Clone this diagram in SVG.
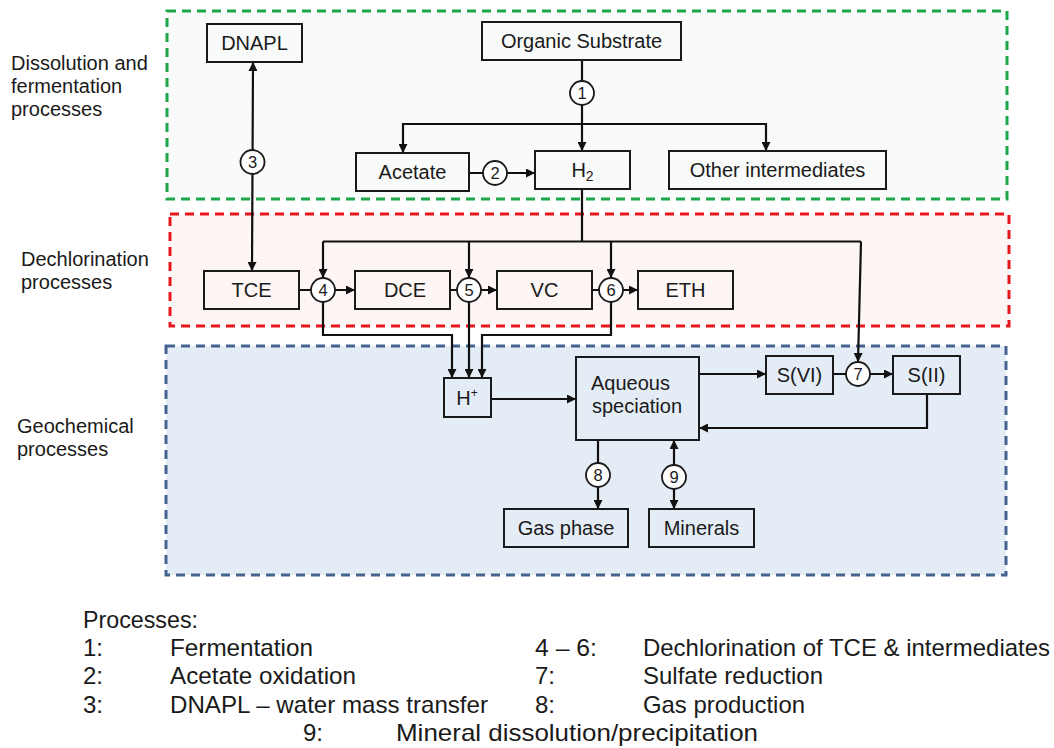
<svg xmlns="http://www.w3.org/2000/svg" width="1054" height="748" viewBox="0 0 1054 748">
<style>
text{font-family:"Liberation Sans",Arial,sans-serif;fill:#1a1a1a}
.lbl{font-size:20px}
.nt{font-size:20px;text-anchor:middle}
.num{font-size:16.5px;text-anchor:middle}
.leg{font-size:24px}
.box{fill:none;stroke:#1a1a1a;stroke-width:2}
.cir{fill:#fff;stroke:#1a1a1a;stroke-width:1.8}
.con{fill:none;stroke:#111;stroke-width:2.2}
.region{stroke-width:3;stroke-dasharray:9 6}
</style>
<defs>
<marker id="ah" viewBox="0 0 10 10" refX="10" refY="5" markerWidth="10" markerHeight="9" markerUnits="userSpaceOnUse" orient="auto-start-reverse">
<path d="M0,0 L10,5 L0,10 z" fill="#111"/>
</marker>
</defs>
<rect width="1054" height="748" fill="#fff"/>

<g id="regions">
<rect class="region" x="167" y="11" width="840" height="188" fill="#f8fbf9" stroke="#1fa64b"/>
<rect class="region" x="170" y="214" width="839" height="112" fill="#fdf6f4" stroke="#e8161c"/>
<rect class="region" x="166" y="346" width="840" height="229" fill="#e4ecf6" stroke="#44648f"/>
</g>

<g id="region-labels">
<text class="lbl" x="11" y="70">Dissolution and</text>
<text class="lbl" x="11" y="93">fermentation</text>
<text class="lbl" x="11" y="116">processes</text>
<text class="lbl" x="21" y="266">Dechlorination</text>
<text class="lbl" x="21" y="289">processes</text>
<text class="lbl" x="17" y="433">Geochemical</text>
<text class="lbl" x="17" y="456">processes</text>
</g>

<g id="connectors">
<path class="con" d="M582 60 V151" marker-end="url(#ah)"/>
<path class="con" d="M582 124 H403 V153" marker-end="url(#ah)"/>
<path class="con" d="M582 124 H766 V151" marker-end="url(#ah)"/>
<path class="con" d="M469 173 H535" marker-end="url(#ah)"/>
<path class="con" d="M253 62 L252 271" marker-start="url(#ah)" marker-end="url(#ah)"/>
<path class="con" d="M582 189 V241.5"/>
<path class="con" d="M323 241.5 H861"/>
<path class="con" d="M323 241.5 V278" marker-end="url(#ah)"/>
<path class="con" d="M469 241.5 V278" marker-end="url(#ah)"/>
<path class="con" d="M611 241.5 V278" marker-end="url(#ah)"/>
<path class="con" d="M861 241.5 L858 362" marker-end="url(#ah)"/>
<path class="con" d="M299 290 H355" marker-end="url(#ah)"/>
<path class="con" d="M450 290 H497" marker-end="url(#ah)"/>
<path class="con" d="M592 290 H638" marker-end="url(#ah)"/>
<path class="con" d="M323 302 V335 H452 V378" marker-end="url(#ah)"/>
<path class="con" d="M469 302 V378" marker-end="url(#ah)"/>
<path class="con" d="M611 302 V335 H482 V378" marker-end="url(#ah)"/>
<path class="con" d="M491 399 H576" marker-end="url(#ah)"/>
<path class="con" d="M699 374 H766" marker-end="url(#ah)"/>
<path class="con" d="M833 374 H893" marker-end="url(#ah)"/>
<path class="con" d="M927 394 V428 H699" marker-end="url(#ah)"/>
<path class="con" d="M598 440 V509" marker-end="url(#ah)"/>
<path class="con" d="M674 509 V440" marker-start="url(#ah)" marker-end="url(#ah)"/>
</g>

<g id="process-markers">
<circle class="cir" cx="582" cy="93" r="12"/><text class="num" x="582" y="99">1</text>
<circle class="cir" cx="495" cy="173" r="12"/><text class="num" x="495" y="179">2</text>
<circle class="cir" cx="252.5" cy="162" r="12"/><text class="num" x="252.5" y="168">3</text>
<circle class="cir" cx="323" cy="290" r="12"/><text class="num" x="323" y="296">4</text>
<circle class="cir" cx="469" cy="290" r="12"/><text class="num" x="469" y="296">5</text>
<circle class="cir" cx="611" cy="290" r="12"/><text class="num" x="611" y="296">6</text>
<circle class="cir" cx="858" cy="374" r="12"/><text class="num" x="858" y="380">7</text>
<circle class="cir" cx="598" cy="475" r="12"/><text class="num" x="598" y="481">8</text>
<circle class="cir" cx="674" cy="477" r="12"/><text class="num" x="674" y="483">9</text>
</g>

<g id="node-dnapl"><rect class="box" x="207" y="24" width="95" height="38"/><text class="nt" x="254.5" y="50">DNAPL</text></g>
<g id="node-organic"><rect class="box" x="482" y="22" width="199" height="38"/><text class="nt" x="581.5" y="48">Organic Substrate</text></g>
<g id="node-acetate"><rect class="box" x="356" y="153" width="113" height="38"/><text class="nt" x="412.5" y="179">Acetate</text></g>
<g id="node-h2"><rect class="box" x="535" y="151" width="95" height="38"/><text class="nt" x="582.5" y="177">H<tspan font-size="14" dy="4">2</tspan></text></g>
<g id="node-other"><rect class="box" x="669" y="151" width="217" height="38"/><text class="nt" x="777.5" y="177">Other intermediates</text></g>
<g id="node-tce"><rect class="box" x="204" y="271" width="95" height="38"/><text class="nt" x="251.5" y="297">TCE</text></g>
<g id="node-dce"><rect class="box" x="355" y="271" width="95" height="38"/><text class="nt" x="405" y="297">DCE</text></g>
<g id="node-vc"><rect class="box" x="497" y="271" width="95" height="38"/><text class="nt" x="544.5" y="297">VC</text></g>
<g id="node-eth"><rect class="box" x="638" y="271" width="95" height="38"/><text class="nt" x="685.5" y="297">ETH</text></g>
<g id="node-hplus"><rect class="box" x="444" y="378" width="47" height="39"/><text class="nt" x="467" y="405">H<tspan font-size="12" dy="-8">+</tspan></text></g>
<g id="node-aqueous"><rect class="box" x="576" y="357" width="123" height="83"/><text class="lbl" x="591" y="390">Aqueous</text><text class="lbl" x="592" y="413">speciation</text></g>
<g id="node-svi"><rect class="box" x="766" y="356" width="67" height="38"/><text class="nt" x="799.5" y="382">S(VI)</text></g>
<g id="node-sii"><rect class="box" x="893" y="356" width="67" height="38"/><text class="nt" x="926.5" y="382">S(II)</text></g>
<g id="node-gas"><rect class="box" x="504" y="509" width="124" height="38"/><text class="nt" x="566" y="535">Gas phase</text></g>
<g id="node-minerals"><rect class="box" x="649" y="509" width="105" height="38"/><text class="nt" x="701.5" y="535">Minerals</text></g>

<g id="legend">
<text class="leg" x="83" y="628" textLength="115" lengthAdjust="spacingAndGlyphs">Processes:</text>
<text class="leg" x="83" y="656">1:</text>
<text class="leg" x="170" y="656" textLength="143" lengthAdjust="spacingAndGlyphs">Fermentation</text>
<text class="leg" x="83" y="684">2:</text>
<text class="leg" x="170" y="684" textLength="186" lengthAdjust="spacingAndGlyphs">Acetate oxidation</text>
<text class="leg" x="83" y="713">3:</text>
<text class="leg" x="170" y="713" textLength="318" lengthAdjust="spacingAndGlyphs">DNAPL – water mass transfer</text>
<text class="leg" x="535" y="656" textLength="62" lengthAdjust="spacingAndGlyphs">4 – 6:</text>
<text class="leg" x="643" y="656" textLength="407" lengthAdjust="spacingAndGlyphs">Dechlorination of TCE &amp; intermediates</text>
<text class="leg" x="535" y="684">7:</text>
<text class="leg" x="643" y="684" textLength="180" lengthAdjust="spacingAndGlyphs">Sulfate reduction</text>
<text class="leg" x="535" y="713">8:</text>
<text class="leg" x="643" y="713" textLength="162" lengthAdjust="spacingAndGlyphs">Gas production</text>
<text class="leg" x="303" y="741">9:</text>
<text class="leg" x="396" y="741" textLength="362" lengthAdjust="spacingAndGlyphs">Mineral dissolution/precipitation</text>
</g>
</svg>
